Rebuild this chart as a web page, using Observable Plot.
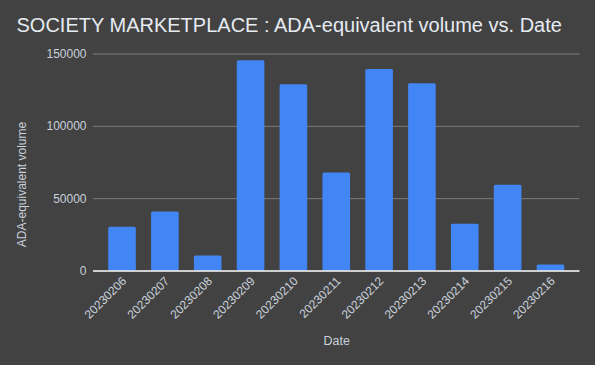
<!DOCTYPE html>
<html>
<head>
<meta charset="utf-8">
<script src="https://cdn.jsdelivr.net/npm/d3@7"></script>
<script src="https://cdn.jsdelivr.net/npm/@observablehq/plot@0.6"></script>
<style>
  html, body { margin: 0; padding: 0; background: #424242; }
  #wrap { position: relative; width: 595px; height: 365px; background: #424242; overflow: hidden; }
  #title { position: absolute; left: 16.5px; top: 14px; font-family: "Liberation Sans", Arial, sans-serif; font-size: 20px; color: #e6ebf2; white-space: nowrap; }
  #chart { position: absolute; left: 0; top: 0; }
</style>
</head>
<body>
<div id="wrap">
  <div id="chart"></div>
  <div id="title">SOCIETY MARKETPLACE : ADA-equivalent volume vs. Date</div>
</div>
<script>
const dates = ["20230206","20230207","20230208","20230209","20230210","20230211","20230212","20230213","20230214","20230215","20230216"];
const volumes = [30300, 40700, 10300, 145400, 128800, 67700, 139200, 129500, 32400, 59300, 4100];
const yTicks = [0, 50000, 100000, 150000];
const yTitle = "ADA-equivalent volume";
const xTitle = "Date";

const data = dates.map((d, i) => ({date: d, volume: volumes[i]}));

const chart = Plot.plot({
  width: 595,
  height: 365,
  marginTop: 53.5,
  marginBottom: 94.5,
  marginLeft: 93,
  marginRight: 15.5,
  style: {background: "transparent", fontFamily: "'Liberation Sans', Arial, sans-serif", fontSize: "12px", color: "#c9d1dc"},
  x: {type: "band", domain: dates, padding: 0.355, round: false},
  y: {domain: [0, 150000]},
  marks: [
    Plot.gridY(yTicks.filter(t => t !== 0), {stroke: "#7c7c7c", strokeOpacity: 1, strokeWidth: 1}),
    Plot.barY(data, {x: "date", y: "volume", fill: "#4285F4", rx: 1.5}),
    Plot.ruleY([0], {stroke: "#ffffff", strokeWidth: 1.5}),
    Plot.axisY(yTicks, {tickSize: 0, tickPadding: 7, tickFormat: d => String(d), label: null, fill: "#c9d1dc", fontSize: 12}),
    Plot.axisX({tickSize: 0, tickRotate: -45, tickPadding: 8, dx: 2, label: null, fill: "#c9d1dc", fontSize: 12}),
    Plot.text([yTitle], {frameAnchor: "left", textAnchor: "middle", dx: -71.5, dy: 22, rotate: -90, fill: "#c9d1dc", fontSize: 12}),
    Plot.text([xTitle], {frameAnchor: "bottom", dy: 74, fill: "#c9d1dc", fontSize: 12.5})
  ]
});
document.getElementById("chart").appendChild(chart);
</script>
</body>
</html>
